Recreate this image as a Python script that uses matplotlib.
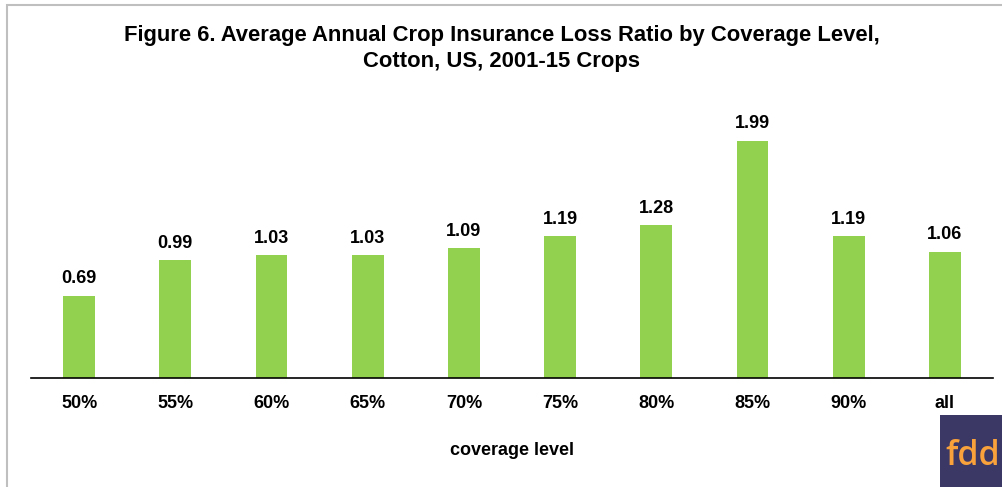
import matplotlib
matplotlib.use("Agg")
import matplotlib.pyplot as plt
from matplotlib.patches import Rectangle

categories = ["50%", "55%", "60%", "65%", "70%", "75%", "80%", "85%", "90%", "all"]
values = [0.69, 0.99, 1.03, 1.03, 1.09, 1.19, 1.28, 1.99, 1.19, 1.06]
value_labels = ["0.69", "0.99", "1.03", "1.03", "1.09", "1.19", "1.28", "1.99", "1.19", "1.06"]

plt.rcParams['font.family'] = ['Liberation Sans', 'DejaVu Sans']

W, H = 1003, 487
fig = plt.figure(figsize=(W/100, H/100), dpi=100)

# outer frame
fig.patches.append(Rectangle((7/W, -0.05), 1.1, 1 - 5/H + 0.05, transform=fig.transFigure,
                             fill=False, edgecolor="#bfbfbf", linewidth=1.5))

ax_left = 31/W
ax_right = 993/W
ax_bottom = 1 - 378/H
ax_top = 1 - 80/H
ax = fig.add_axes([ax_left, ax_bottom, ax_right - ax_left, ax_top - ax_bottom])

x = range(len(categories))
bars = ax.bar(x, values, width=0.33, color="#92d050")
for xi, v, lab in zip(x, values, value_labels):
    ax.annotate(lab, (xi, v), xytext=(0, 6), textcoords="offset points",
                ha="center", va="bottom", fontsize=13, fontweight="bold", color="#000000")

ax.set_xlim(-0.5, len(categories) - 0.5)
ax.set_ylim(0, 2.5)
ax.set_yticks([])
for s in ["top", "right", "left"]:
    ax.spines[s].set_visible(False)
ax.spines["bottom"].set_linewidth(1.2)
ax.spines["bottom"].set_color("#000000")
ax.set_xticks(list(x))
ax.set_xticklabels(categories, fontsize=13, fontweight="bold")
ax.tick_params(axis="x", length=0, pad=12)
ax.set_xlabel("coverage level", fontsize=13, fontweight="bold", labelpad=22)

fig.text(0.5, 1 - 35/H, "Figure 6. Average Annual Crop Insurance Loss Ratio by Coverage Level,",
         ha="center", va="center", fontsize=15.8, fontweight="bold")
fig.text(0.5, 1 - 61/H, "Cotton, US, 2001-15 Crops",
         ha="center", va="center", fontsize=15.8, fontweight="bold")

# logo
fig.patches.append(Rectangle((940/W, 0), 1 - 940/W, 72/H, transform=fig.transFigure,
                             facecolor="#3b3866", edgecolor="none"))
fig.text(945/W, 1 - 465/H, "fdd", ha="left", va="baseline", fontsize=24.5, fontweight="semibold",
         family=["Open Sans", "DejaVu Sans"], color="#f9a13a")

fig.savefig("out.png", dpi=100)
